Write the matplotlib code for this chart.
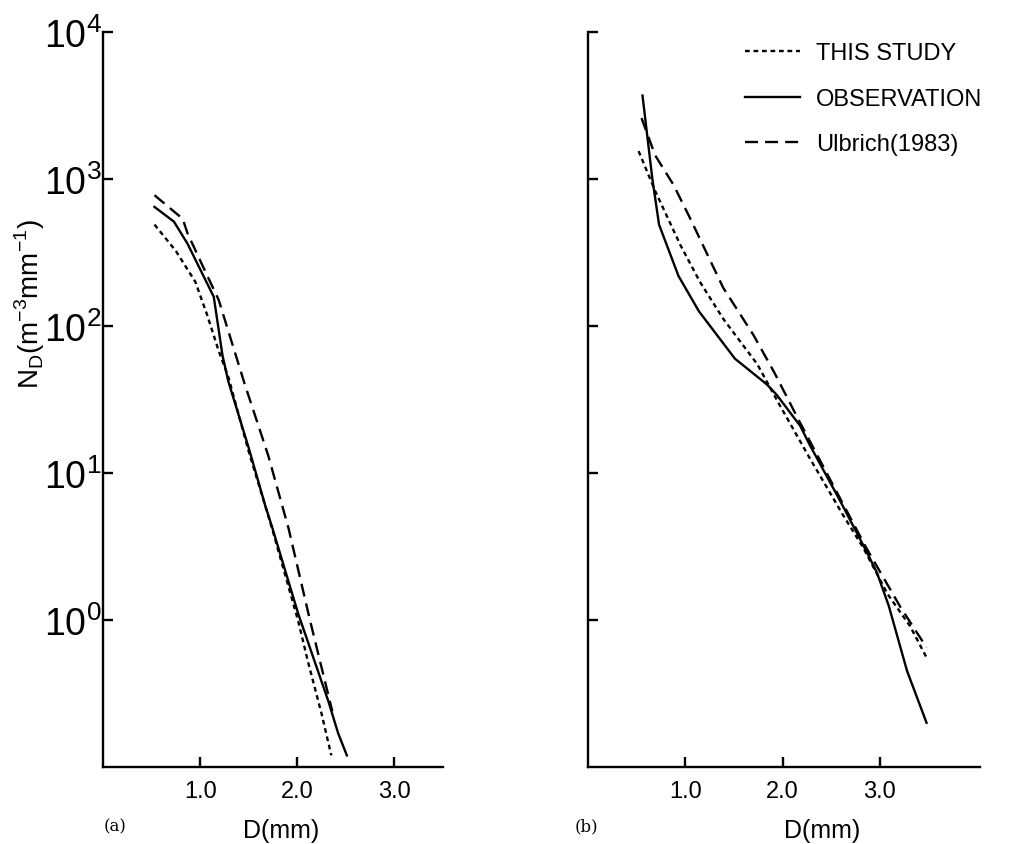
import matplotlib
matplotlib.use("Agg")
import matplotlib.pyplot as plt
import numpy as np

plt.rcParams['font.family'] = ['Liberation Sans', 'DejaVu Sans']
plt.rcParams['mathtext.fontset'] = 'custom'
plt.rcParams['mathtext.rm'] = 'Liberation Sans'

# (a) drop size distributions, D in mm, N_D in m^-3 mm^-1
d_obs_a = [0.53, 0.73, 0.87, 1.14, 1.23, 1.29, 1.50, 1.67, 1.74, 2.01, 2.32, 2.42, 2.51]
n_obs_a = [646, 513, 363, 158, 63, 42, 14.8, 6.0, 4.3, 1.1, 0.28, 0.17, 0.12]

d_this_a = [0.53, 0.75, 0.95, 1.07, 1.19, 1.29, 1.50, 1.74, 2.01, 2.11, 2.25, 2.35]
n_this_a = [490, 324, 200, 120, 68, 45, 14, 4.2, 0.98, 0.52, 0.23, 0.12]

d_ulb_a = [0.53, 0.71, 0.82, 0.87, 1.04, 1.19, 1.46, 1.70, 1.91, 2.13, 2.36]
n_ulb_a = [776, 617, 537, 427, 245, 151, 40, 13.2, 4.2, 1.0, 0.24]

# (b)
d_obs_b = [0.56, 0.66, 0.73, 0.93, 1.14, 1.51, 1.84, 1.94, 2.18, 2.28, 2.59, 2.86,
           2.97, 3.09, 3.28, 3.48]
n_obs_b = [3700, 1020, 490, 219, 126, 60, 40, 34, 21, 15.5, 6.5, 2.95,
           2.1, 1.26, 0.45, 0.20]

d_this_b = [0.52, 0.69, 0.95, 1.15, 1.39, 1.74, 1.97, 2.28, 2.62, 2.83, 3.08, 3.31, 3.49]
n_this_b = [1550, 830, 355, 200, 112, 55, 29, 12.6, 5.2, 3.1, 1.5, 0.91, 0.54]

d_ulb_b = [0.55, 0.69, 0.88, 1.05, 1.39, 1.70, 1.91, 2.18, 2.86, 3.21, 3.48]
n_ulb_b = [2600, 1450, 910, 540, 182, 87, 49, 22, 3.1, 1.23, 0.65]

labels = ['THIS STUDY', 'OBSERVATION', 'Ulbrich(1983)']
yticks = [1, 10, 100, 1000, 10000]
xticks = [1.0, 2.0, 3.0]

dotted = (0, (2, 1.6))
dashed = (0, (5.5, 3))
lw = 1.7

fig = plt.figure(figsize=(10.14, 8.45), dpi=100)
ax1 = fig.add_axes([0.1016, 0.0911, 0.3353, 0.8698])
ax2 = fig.add_axes([0.5799, 0.0911, 0.3866, 0.8698])


def draw(ax, d_this, n_this, d_obs, n_obs, d_ulb, n_ulb, xmax):
    ax.plot(d_this, n_this, color='black', lw=lw, ls=dotted, label=labels[0])
    ax.plot(d_obs, n_obs, color='black', lw=lw, ls='-', label=labels[1])
    ax.plot(d_ulb, n_ulb, color='black', lw=lw, ls=dashed, label=labels[2])
    ax.set_yscale('log')
    ax.set_ylim(0.1, 1e4)
    ax.set_xlim(0, xmax)
    ax.set_yticks(yticks)
    ax.minorticks_off()
    ax.set_xticks(xticks)
    ax.set_xticklabels(['%.1f' % x for x in xticks])
    for s in ['top', 'right']:
        ax.spines[s].set_visible(False)
    for s in ['left', 'bottom']:
        ax.spines[s].set_linewidth(1.7)
    ax.tick_params(direction='in', length=7, width=1.7, labelsize=17, pad=9)
    ax.tick_params(axis='y', labelsize=27, pad=1)


draw(ax1, d_this_a, n_this_a, d_obs_a, n_obs_a, d_ulb_a, n_ulb_a, 3.5)
draw(ax2, d_this_b, n_this_b, d_obs_b, n_obs_b, d_ulb_b, n_ulb_b, 4.03)
ax2.set_yticklabels([])

ax2.legend(loc='upper right', bbox_to_anchor=(1.06, 1.015), frameon=False,
           fontsize=17, handlelength=2.3, handletextpad=0.7, labelspacing=1.0)

fig.text(0.0296, 0.64, r'N$_{\mathdefault{D}}$(m$^{\mathdefault{-3}}$mm$^{\mathdefault{-1}}$)',
         rotation=90, ha='center', va='center', fontsize=20)
fig.text(0.277, 0.017, 'D(mm)', ha='center', va='center', fontsize=18)
fig.text(0.811, 0.016, 'D(mm)', ha='center', va='center', fontsize=18)
fig.text(0.102, 0.022, '(a)', ha='left', va='center', fontsize=12, family='DejaVu Serif')
fig.text(0.567, 0.022, '(b)', ha='left', va='center', fontsize=12, family='DejaVu Serif')

fig.savefig('out.png', dpi=100, facecolor='white')
